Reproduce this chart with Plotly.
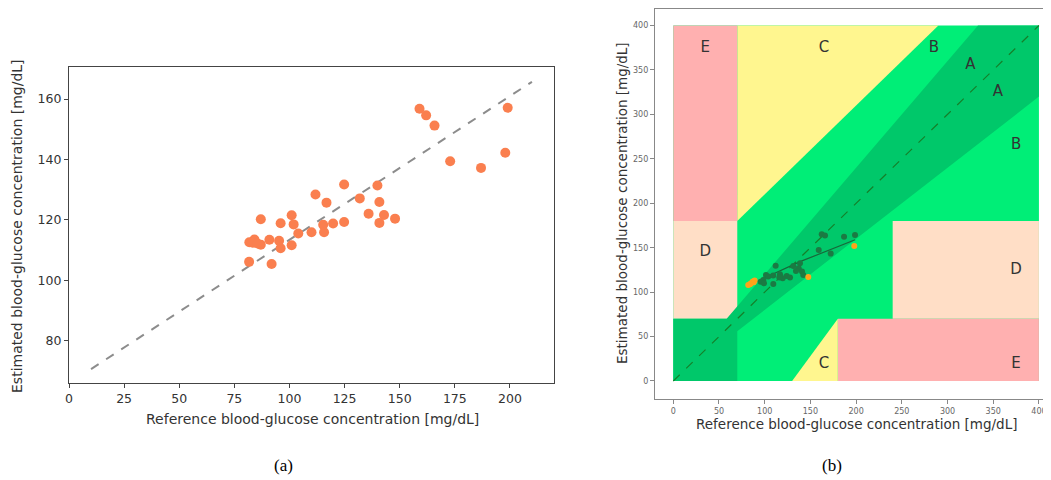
import plotly.graph_objects as go

# ---------------- data: panel (a) ----------------
ref_a = [159.0, 162.0, 165.8, 199.0, 197.9, 172.9, 186.9, 124.8, 139.9, 111.8, 131.9, 116.8,
         140.8, 135.9, 142.9, 147.9, 140.8, 124.8, 119.8, 115.3, 115.7, 110.0, 104.0, 101.0,
         101.9, 96.0, 87.0, 101.0, 96.0, 95.3, 90.9, 87.0, 84.1, 81.8, 83.3, 81.7, 91.9, 85.5]
est_a = [156.8, 154.6, 151.2, 157.1, 142.2, 139.4, 137.2, 131.7, 131.4, 128.4, 127.1, 125.7,
         125.9, 122.0, 121.6, 120.4, 119.0, 119.3, 118.8, 118.4, 115.9, 115.9, 115.5, 121.5,
         118.5, 118.9, 120.2, 111.6, 110.6, 113.1, 113.4, 111.8, 113.5, 112.6, 112.4, 106.1,
         105.4, 112.2]
fit_a_x = [10, 210]
fit_a_y = [70.6, 165.7]
xticks_a = [0, 25, 50, 75, 100, 125, 150, 175, 200]
yticks_a = [80, 100, 120, 140, 160]

# ---------------- data: panel (b) ----------------
ref_b = [162.4, 166.0, 186.8, 198.8, 159.1, 172.2, 112.0, 131.3, 138.6, 137.2, 140.8, 134.2,
         142.2, 116.7, 124.1, 119.7, 116.0, 101.4, 103.9, 98.5, 95.6, 109.4, 99.2, 127.7, 109.3]
est_b = [165.2, 163.6, 162.2, 164.4, 147.5, 143.4, 129.8, 129.5, 132.5, 126.9, 123.1, 123.9,
         119.4, 120.2, 118.2, 115.7, 116.4, 119.4, 117.5, 113.7, 111.8, 109.2, 110.0, 116.4, 118.8]
ref_o = [198.0, 147.7, 82, 84, 85, 87, 88, 89]
est_o = [152.0, 117.1, 108, 109, 110, 112, 111, 113]
fit_b_x = [83, 138, 199]
fit_b_y = [108, 134, 159]
diag_x = [0, 400]
diag_y = [0, 400]
ticks_b = [0, 50, 100, 150, 200, 250, 300, 350, 400]

# Clarke error grid zones (polygon vertices)
zone_bg = ([0, 400, 400, 0], [0, 0, 400, 400])
zone_c_up = ([70, 70, 290], [180, 400, 400])
zone_e_up = ([0, 70, 70, 0], [180, 180, 400, 400])
zone_d_left = ([0, 70, 70, 0], [70, 70, 180, 180])
zone_a = ([0, 0, 175 / 3, 400 / 1.2, 400, 400, 70, 70], [0, 70, 70, 400, 400, 320, 56, 0])
zone_d_right = ([240, 400, 400, 240], [70, 70, 180, 180])
zone_e_low = ([180, 400, 400, 180], [0, 0, 70, 70])
zone_c_low = ([130, 180, 180], [0, 70, 0])
zone_labels = ["E", "C", "B", "A", "A", "B", "D", "D", "C", "E"]
zone_lab_x = [35, 165, 285, 325, 355, 375, 35, 375, 165, 375]
zone_lab_y = [375, 375, 375, 355, 325, 265, 145, 125, 19, 19]

LIGHT_G = "#00EE77"
DARK_G = "#00C86A"
PINK = "#FFB0B0"
YELLOW = "#FFF68F"
PEACH = "#FFDEC6"

# the page body has an 8px margin; lay out in window pixels and convert
OFF = 8
W, H = 1051 - OFF, 480 - OFF


def px(x):
    return (x - OFF) / W


def py(y):
    return 1 - (y - OFF) / H


fig = go.Figure()

# panel (a)
fig.add_trace(go.Scatter(x=fit_a_x, y=fit_a_y, mode="lines",
                         line=dict(color="#8c8c8c", width=2, dash="dash"),
                         xaxis="x", yaxis="y", showlegend=False))
fig.add_trace(go.Scatter(x=ref_a, y=est_a, mode="markers",
                         marker=dict(color="#FA7F4F", size=10, line=dict(width=0)),
                         xaxis="x", yaxis="y", showlegend=False))

# panel (b) zones
for (zx, zy), col in [(zone_bg, LIGHT_G), (zone_c_up, YELLOW), (zone_e_up, PINK),
                      (zone_d_left, PEACH), (zone_a, DARK_G), (zone_d_right, PEACH),
                      (zone_e_low, PINK), (zone_c_low, YELLOW)]:
    fig.add_trace(go.Scatter(x=zx, y=zy, mode="lines", fill="toself", fillcolor=col,
                             line=dict(width=0), hoverinfo="skip",
                             xaxis="x2", yaxis="y2", showlegend=False))

fig.add_trace(go.Scatter(x=diag_x, y=diag_y, mode="lines",
                         line=dict(color="#14802A", width=1.2, dash="dash"),
                         xaxis="x2", yaxis="y2", showlegend=False))
fig.add_trace(go.Scatter(x=fit_b_x, y=fit_b_y, mode="lines",
                         line=dict(color="#17683A", width=1.2),
                         xaxis="x2", yaxis="y2", showlegend=False))
fig.add_trace(go.Scatter(x=ref_b, y=est_b, mode="markers",
                         marker=dict(color="#1B7A43", size=6, line=dict(width=0)),
                         xaxis="x2", yaxis="y2", showlegend=False))
fig.add_trace(go.Scatter(x=ref_o, y=est_o, mode="markers",
                         marker=dict(color="#FFA31A", size=6, line=dict(width=0)),
                         xaxis="x2", yaxis="y2", showlegend=False))
fig.add_trace(go.Scatter(x=zone_lab_x, y=zone_lab_y, mode="text", text=zone_labels,
                         textfont=dict(family="DejaVu Sans", size=15, color="#333333"),
                         xaxis="x2", yaxis="y2", showlegend=False, hoverinfo="skip"))

axis_common = dict(showgrid=False, zeroline=False, showline=True, linewidth=1.2,
                   ticks="outside", ticklen=4, tickwidth=1, automargin=False)

fig.update_layout(
    width=W, height=H,
    margin=dict(l=0, r=0, t=0, b=0, autoexpand=False),
    paper_bgcolor="white", plot_bgcolor="white",
    font=dict(family="DejaVu Sans", color="#333333"),
    xaxis=dict(domain=[px(69), px(554)], range=[0, 220], tickvals=xticks_a,
               mirror=True, linecolor="#444444", tickcolor="#444444",
               tickfont=dict(size=12.5, color="#333333"), anchor="y", **axis_common),
    yaxis=dict(domain=[py(383), py(67)], range=[66, 170.6], tickvals=yticks_a,
               mirror=True, linecolor="#444444", tickcolor="#444444",
               tickfont=dict(size=12.5, color="#333333"), anchor="x", **axis_common),
    xaxis2=dict(domain=[px(655), 1.0], range=[-20, 413.2], tickvals=ticks_b,
                mirror=True, linecolor="#888888", tickcolor="#888888",
                tickfont=dict(size=8, color="#666666"), anchor="y2", **axis_common),
    yaxis2=dict(domain=[py(399.3), py(9)], range=[-20.6, 418.6], tickvals=ticks_b,
                mirror=False, linecolor="#888888", tickcolor="#888888",
                tickfont=dict(size=8, color="#666666"), anchor="x2", **axis_common),
)

ann = [
    dict(text="Reference blood-glucose concentration [mg/dL]", x=px(312), y=py(419),
         font=dict(size=14, color="#333333")),
    dict(text="Estimated blood-glucose concentration [mg/dL]", x=px(17), y=py(226),
         textangle=-90, font=dict(size=14, color="#333333")),
    dict(text="Reference blood-glucose concentration [mg/dL]", x=px(856), y=py(424),
         font=dict(size=13.5, color="#333333")),
    dict(text="Estimated blood-glucose concentration [mg/dL]", x=px(622), y=py(203),
         textangle=-90, font=dict(size=13.5, color="#333333")),
    dict(text="(a)", x=px(283), y=py(465),
         font=dict(size=17, family="Liberation Serif", color="#000000")),
    dict(text="(b)", x=px(832), y=py(465),
         font=dict(size=17, family="Liberation Serif", color="#000000")),
]
for a in ann:
    a.update(xref="paper", yref="paper", showarrow=False, xanchor="center", yanchor="middle")
fig.update_layout(annotations=ann)

fig.write_html("out.html")
